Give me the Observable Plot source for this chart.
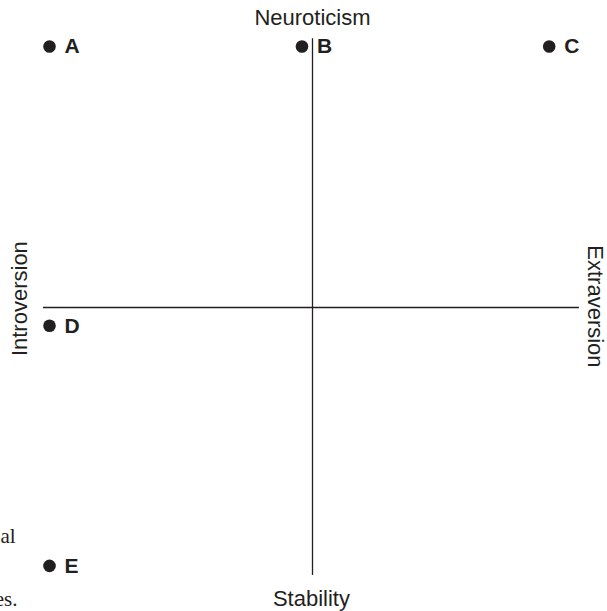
<!DOCTYPE html>
<html>
<head>
<meta charset="utf-8">
<script src="https://cdn.jsdelivr.net/npm/d3@7"></script>
<script src="https://cdn.jsdelivr.net/npm/@observablehq/plot@0.6"></script>
<style>
  html, body { margin: 0; padding: 0; background: #fff; }
  #chart svg { display: block; }
</style>
</head>
<body>
<div id="chart"></div>
<script>
// Point labels and positions on the two personality dimensions
const labels = ["A", "B", "C", "D", "E"];
const extraversion = [-1, -0.04, 0.9, -1, -1];   // x: introversion (-) to extraversion (+)
const neuroticism = [1, 1, 1, -0.07, -0.99];      // y: stability (-) to neuroticism (+)

// Axis pole names
const poleNames = ["Neuroticism", "Stability", "Introversion", "Extraversion"];

// Clipped fragments of surrounding page text
const fragments = ["al", "es."];

const points = labels.map((l, i) => ({label: l, x: extraversion[i], y: neuroticism[i]}));
const poles = [
  {text: poleNames[0], x: 0, y: 1.084, rotate: 0},
  {text: poleNames[1], x: -0.004, y: -1.142, rotate: 0},
  {text: poleNames[2], x: -1.087, y: 0.034, rotate: -90},
  {text: poleNames[3], x: 1.046, y: 0.004, rotate: 90}
];
const frag = [
  {text: fragments[0], x: -1.129, y: -0.904},
  {text: fragments[1], x: -1.122, y: -1.142}
];

const ink = "#231f20";

const chart = Plot.plot({
  width: 607,
  height: 611,
  margin: 0,
  style: {background: "#fff", fontFamily: "'Liberation Sans', Arial, sans-serif"},
  x: {domain: [-1, 1], range: [49, 575], axis: null},
  y: {domain: [-1, 1], range: [568, 46], axis: null},
  marks: [
    Plot.ruleY([0], {x1: -1.023, x2: 1.015, stroke: ink, strokeWidth: 1.3}),
    Plot.ruleX([0], {y1: -1.027, y2: 1.03, stroke: ink, strokeWidth: 1.3}),
    Plot.dot(points, {x: "x", y: "y", r: 6.3, fill: ink, stroke: "none"}),
    Plot.text(points, {x: "x", y: "y", text: "label", dx: 15, textAnchor: "start", lineAnchor: "middle",
      fontSize: 21, fontWeight: "bold", fill: ink}),
    Plot.text(poles.filter(d => d.rotate === 0), {x: "x", y: "y", text: "text", textAnchor: "middle",
      lineAnchor: "bottom", fontSize: 22, fill: ink}),
    Plot.text(poles.filter(d => d.rotate === -90), {x: "x", y: "y", text: "text", rotate: -90,
      textAnchor: "middle", lineAnchor: "bottom", fontSize: 22, fill: ink}),
    Plot.text(poles.filter(d => d.rotate === 90), {x: "x", y: "y", text: "text", rotate: 90,
      textAnchor: "middle", lineAnchor: "bottom", fontSize: 22, fill: ink}),
    Plot.text(frag, {x: "x", y: "y", text: "text", textAnchor: "end", lineAnchor: "bottom",
      fontSize: 21, fontFamily: "'Liberation Serif', 'Times New Roman', serif", fill: ink})
  ]
});
document.getElementById("chart").appendChild(chart);
</script>
</body>
</html>
